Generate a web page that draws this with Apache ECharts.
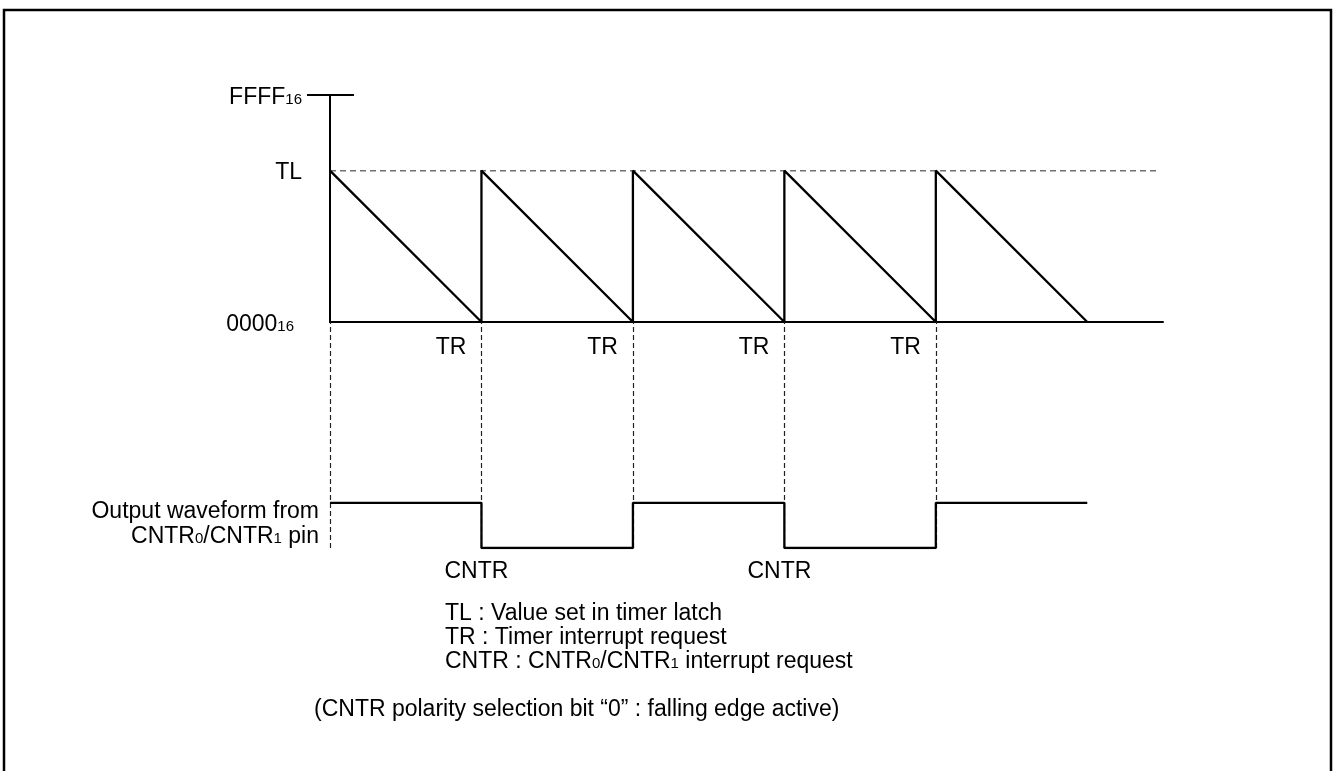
<!DOCTYPE html>
<html>
<head>
<meta charset="utf-8">
<script src="https://cdn.jsdelivr.net/npm/echarts@6/dist/echarts.min.js"></script>
<style>
  html, body { margin: 0; padding: 0; background: #fff; }
  #chart { width: 1334px; height: 771px; }
</style>
</head>
<body>
<div id="chart"></div>
<script>
// ---- data ----
const timeMax = 5.5;                 // x extent of the time axis (periods)
const counterMax = 65535;            // FFFF16
const latchValue = 43700;            // TL level
const reloadTimes = [0, 1, 2, 3, 4]; // counter reloaded with TL
const underflowTimes = [1, 2, 3, 4, 5]; // counter reaches 0000
const latchLineEnd = 5.47;
const trTimes = [1, 2, 3, 4];
const trLabels = ['TR', 'TR', 'TR', 'TR'];
const cntrTimes = [1, 3];
const cntrLabels = ['CNTR', 'CNTR'];
const waveTimes = [0, 1, 2, 3, 4, 5];
const waveLevels = [1, 0, 1, 0, 1, 1];
const guideTimes = [0, 1, 2, 3, 4];
const waveAxisMax = 5;
const levelTicks = [0, latchValue, counterMax];
const levelTickLabels = [['0000', '16'], ['TL', ''], ['FFFF', '16']];

const FONT = '"Liberation Sans", Arial, Helvetica, sans-serif';
const FS = 23;
const SUB = 15;

const sawData = [];
reloadTimes.forEach((t, i) => {
  sawData.push([t, latchValue]);
  sawData.push([underflowTimes[i], 0]);
});

const chart = echarts.init(document.getElementById('chart'), null, { renderer: 'canvas' });

const richBase = {
  m: { fontSize: FS, fontFamily: FONT, color: '#000' },
  s: { fontSize: SUB, fontFamily: FONT, color: '#000', verticalAlign: 'bottom', padding: [0, 0, 2, 0] },
  z: { fontSize: SUB, fontFamily: FONT, color: '#000', verticalAlign: 'bottom', padding: [0, 8, 2, 0] }
};

function textEl(text, x, y, align) {
  return {
    type: 'text', x: x, y: y, silent: true,
    style: {
      text: text, rich: richBase, fill: '#000',
      font: FS + 'px ' + FONT,
      align: align, textAlign: align,
      verticalAlign: 'middle', textVerticalAlign: 'middle'
    }
  };
}

const option = {
  backgroundColor: '#fff',
  animation: false,
  grid: [
    { left: 330, top: 95, width: 833, height: 227 },
    { left: 330, top: 322, width: 833, height: 226 }
  ],
  xAxis: [
    { gridIndex: 0, type: 'value', min: 0, max: timeMax,
      axisLine: { show: true, lineStyle: { color: '#000', width: 2 } },
      axisTick: { show: false }, axisLabel: { show: false }, splitLine: { show: false } },
    { gridIndex: 1, type: 'value', min: 0, max: timeMax, show: false }
  ],
  yAxis: [
    { gridIndex: 0, type: 'value', min: 0, max: counterMax, position: 'left',
      axisLine: { show: true, lineStyle: { color: '#000', width: 2 } },
      axisTick: { show: true, customValues: [counterMax], inside: false, length: 23,
                  lineStyle: { color: '#000', width: 2 } },
      splitLine: { show: false },
      axisLabel: {
        show: true, customValues: levelTicks, margin: 28,
        padding: [5, 0, 0, 0],
        formatter: function (v) {
          const i = levelTicks.indexOf(v);
          if (i < 0) return '';
          const p = levelTickLabels[i];
          if (!p[1]) return '{m|' + p[0] + '}';
          return '{m|' + p[0] + '}{' + (v === 0 ? 'z' : 's') + '|' + p[1] + '}';
        },
        rich: richBase
      } },
    { gridIndex: 0, type: 'value', min: 0, max: counterMax, position: 'left',
      axisLine: { show: false },
      axisTick: { show: true, customValues: [counterMax], inside: true, length: 24,
                  lineStyle: { color: '#000', width: 2 } },
      axisLabel: { show: false }, splitLine: { show: false } },
    { gridIndex: 1, type: 'value', min: 0, max: waveAxisMax, show: false }
  ],
  series: [
    { // TL dashed reference
      type: 'line', xAxisIndex: 0, yAxisIndex: 0, symbol: 'none', silent: true, z: 1,
      data: [[0, latchValue], [latchLineEnd, latchValue]],
      lineStyle: { color: '#707070', width: 1.5, type: [6, 4] }
    },
    { // counter sawtooth
      type: 'line', xAxisIndex: 0, yAxisIndex: 0, symbol: 'none', silent: true, z: 3,
      data: sawData,
      lineStyle: { color: '#000', width: 2.3 }
    },
    { // TR labels
      type: 'scatter', xAxisIndex: 0, yAxisIndex: 0, symbolSize: 0, silent: true,
      itemStyle: { opacity: 1 },
      data: trTimes.map(t => [t, 0]),
      label: { show: true, position: [-15, 26], align: 'right', verticalAlign: 'middle',
               fontSize: FS, fontFamily: FONT, color: '#000', opacity: 1,
               formatter: p => trLabels[p.dataIndex] }
    },
    { // output waveform
      type: 'line', xAxisIndex: 1, yAxisIndex: 2, symbol: 'none', silent: true, z: 3,
      step: 'end',
      data: waveTimes.map((t, i) => [t, waveLevels[i]]),
      lineStyle: { color: '#000', width: 2.3 },
      markLine: {
        silent: true, symbol: ['none', 'none'], label: { show: false }, z: 1,
        lineStyle: { color: '#222', width: 1.2, type: [5, 3] },
        data: guideTimes.map(t => ({ xAxis: t }))
      }
    },
    { // CNTR labels
      type: 'scatter', xAxisIndex: 1, yAxisIndex: 2, symbolSize: 0, silent: true,
      itemStyle: { opacity: 1 },
      data: cntrTimes.map(t => [t, 0]),
      label: { show: true, position: [-5, 24], align: 'center', verticalAlign: 'middle',
               fontSize: FS, fontFamily: FONT, color: '#000', opacity: 1,
               formatter: p => cntrLabels[p.dataIndex] }
    }
  ],
  graphic: [
    { type: 'rect', silent: true, z: -10,
      shape: { x: 4, y: 10, width: 1327, height: 820 },
      style: { fill: 'none', stroke: '#000', lineWidth: 2.5 } },
    textEl('{m|Output waveform from}', 319, 512, 'right'),
    textEl('{m|CNTR}{s|0}{m|/CNTR}{s|1}{m| pin}', 319, 537, 'right'),
    textEl('{m|TL : Value set in timer latch}', 445, 614, 'left'),
    textEl('{m|TR : Timer interrupt request}', 445, 638, 'left'),
    textEl('{m|CNTR : CNTR}{s|0}{m|/CNTR}{s|1}{m| interrupt request}', 445, 662, 'left'),
    textEl('{m|(CNTR polarity selection bit \u201C0\u201D : falling edge active)}', 314, 710, 'left')
  ]
};

chart.setOption(option);
</script>
</body>
</html>
